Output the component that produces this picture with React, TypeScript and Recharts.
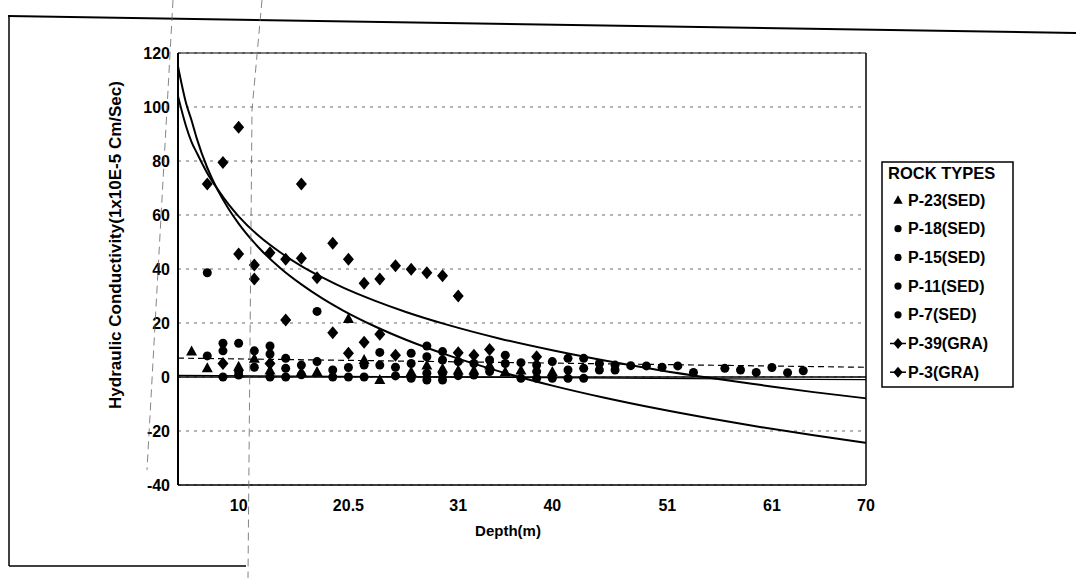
import React from 'react';
import { ComposedChart, Scatter, Line, XAxis, YAxis, CartesianGrid, ReferenceLine } from 'recharts';

const FONT = "'Liberation Sans', Arial, Helvetica, sans-serif";
const n = null;

// depth of each measured interval (m)
const depths = [5.5, 7, 8.5, 10, 11.5, 13, 14.5, 16, 17.5, 19, 20.5, 22, 23.5, 25, 26.5, 28, 29.5, 31, 32.5, 34, 35.5, 37, 38.5, 40, 41.5, 43, 44.5, 46, 47.5, 49, 50.5, 52, 53.5, 55, 56.5, 58, 59.5, 61, 62.5, 64];

// hydraulic conductivity per bore (1x10E-5 cm/sec), by depth index
const p23 = [9.6, 3.4, n, 4, 6.9, 2.6, n, 2, 2, n, 21.7, 6.5, -0.9, n, 2, 4.4, 3.2, 2.6, 2.6, 4.4, 2, 2.6, n, 2];
const p18 = [n, 38.6, 12.5, 12.5, 9.7, 11.5, 6.9, 4.4, 24.3, 2.6, 3.5, 4.4, 9.1, 3.6, 8.8, 11.5, 9.4, 5.7, 5, 6.3, 8.1, 5.3, 4.4, 5.7, 6.9, 6.9, 5, 4.4];
const p15 = [n, 7.8, 9.7, 2, 3.6, 8.5, 3.2, 0.8, 5.7, 0, 0, 0, 4.4, 0.4, 5, 7.5, 6.3, 0.5, 0.7, 2, 5, -0.5, 2, -0.5, 2.6, 3.2, 2.6, 2.6];
const p11 = [n, n, 0, 0.7, n, 0, 0, n, n, n, n, n, n, n, -0.5, 1.4, 1.4, n, n, n, n, n, -0.5, n, -0.5, -0.5];
const p7 = [n, n, n, n, n, n, n, n, n, n, n, n, n, n, n, -1.1, -1.1, n, n, n, n, n, n, n, n, n, n, n, 4.2, 4.1, 3.6, 4.1, 1.7, n, 3.2, 2.6, 1.7, 3.5, 1.6, 2.3];
const p39 = [n, n, 5, 45.6, 36.3, 5, 21.1, 44, n, 16.4, 8.8, 12.9, 15.8, 8.1, n, n, n, 9, 8.1, 10.2, n, n, 7.5];
const p3 = [n, 71.5, 79.4, 92.5, 41.5, 46, 43.6, 71.5, 36.8, 49.5, 43.6, 34.7, 36.3, 41.2, 39.9, 38.6, 37.5, 30];

// trend curves
const trendDepths = [4.2, 5, 5.5, 6, 7, 8, 9, 10, 12, 14, 16, 18, 20, 23, 26, 30, 35, 40, 45, 50, 55, 60, 65, 70];
const trendA = [115, 101, 95, 88.3, 77.5, 69.2, 62.5, 56.8, 47.6, 40.3, 34.3, 29.1, 24.6, 18.8, 13.8, 8.1, 2.0, -3.2, -7.7, -11.7, -15.3, -18.6, -21.6, -24.4];
const trendB = [104, 92.5, 87, 83, 75.5, 69.5, 64.1, 59.5, 52.0, 46.1, 41.1, 36.9, 33.1, 28.3, 24.1, 19.3, 14.2, 9.9, 6.1, 2.7, -0.3, -3.0, -5.6, -7.9];
const flatDepths = [4.2, 70];
const flatDashed = [7, 3.6];
const flatSolid = [0.6, -1.0];

const depthTicks = [10, 20.5, 31, 40, 51, 61, 70];
const valueTicks = [-40, -20, 0, 20, 40, 60, 80, 100, 120];

type Kind = 'triangle' | 'circle' | 'diamond';

const series: { name: string; values: (number | null)[]; kind: Kind }[] = [
  { name: 'P-23(SED)', values: p23, kind: 'triangle' },
  { name: 'P-18(SED)', values: p18, kind: 'circle' },
  { name: 'P-15(SED)', values: p15, kind: 'circle' },
  { name: 'P-11(SED)', values: p11, kind: 'circle' },
  { name: 'P-7(SED)', values: p7, kind: 'circle' },
  { name: 'P-39(GRA)', values: p39, kind: 'diamond' },
  { name: 'P-3(GRA)', values: p3, kind: 'diamond' },
];

function toPoints(values: (number | null)[]) {
  return depths
    .map((d, i) => ({ depth: d, value: values[i] }))
    .filter((p) => p.value !== null && p.value !== undefined);
}

function toRows(xs: number[], ys: number[]) {
  return xs.map((d, i) => ({ depth: d, value: ys[i] }));
}

function Marker({ cx, cy, kind, scale = 1 }: { cx?: number; cy?: number; kind: Kind; scale?: number }) {
  if (cx == null || cy == null) return null;
  const s = scale;
  if (kind === 'triangle')
    return <path d={`M${cx},${cy - 5.5 * s}L${cx + 5.5 * s},${cy + 4.5 * s}L${cx - 5.5 * s},${cy + 4.5 * s}Z`} fill="#000" />;
  if (kind === 'diamond')
    return <path d={`M${cx},${cy - 6.5 * s}L${cx + 5.5 * s},${cy}L${cx},${cy + 6.5 * s}L${cx - 5.5 * s},${cy}Z`} fill="#000" />;
  return <circle cx={cx} cy={cy} r={4.5 * s} fill="#000" />;
}

const tickStyle = { fill: '#000', fontSize: 16, fontWeight: 700, fontFamily: FONT };

function LegendBox() {
  return (
    <svg width={134} height={228} style={{ position: 'absolute', left: 881, top: 161 }}>
      <rect x={1} y={1} width={131} height={225} fill="#fff" stroke="#000" strokeWidth={1.5} />
      <text x={7} y={18} fontSize={16.5} fontWeight={700} fontFamily={FONT}>ROCK TYPES</text>
      {series.map((s, i) => {
        const cy = 39 + i * 28.7;
        return (
          <g key={s.name}>
            {s.kind === 'diamond' && <line x1={9} x2={25} y1={cy} y2={cy} stroke="#000" strokeWidth={1.5} />}
            <Marker cx={17} cy={cy} kind={s.kind} scale={s.kind === 'circle' ? 0.8 : 0.85} />
            <text x={27} y={cy + 5.5} fontSize={16} fontWeight={700} fontFamily={FONT}>{s.name}</text>
          </g>
        );
      })}
    </svg>
  );
}

function Decor() {
  return (
    <svg width={1076} height={578} style={{ position: 'absolute', left: 0, top: 0, pointerEvents: 'none' }}>
      <line x1={8} y1={16} x2={1076} y2={33} stroke="#000" strokeWidth={2} />
      <line x1={9} y1={16} x2={9} y2={566} stroke="#000" strokeWidth={1.5} />
      <line x1={9} y1={566} x2={246} y2={566} stroke="#000" strokeWidth={1.5} />
      <line x1={173} y1={0} x2={147} y2={470} stroke="#666" strokeWidth={0.8} strokeDasharray="8 5" />
      <polyline points="262,0 252,110 248,578" fill="none" stroke="#666" strokeWidth={0.8} strokeDasharray="8 5" />
      <text x={117} y={245} transform="rotate(-90 117 245)" textAnchor="middle" dominantBaseline="middle"
        fontSize={17} fontWeight={700} fontFamily={FONT}>Hydraulic Conductivity(1x10E-5 Cm/Sec)</text>
      <text x={508} y={536} textAnchor="middle" fontSize={15} fontWeight={700} fontFamily={FONT}>Depth(m)</text>
    </svg>
  );
}

export default function App() {
  return (
    <div style={{ position: 'absolute', left: 0, top: 0, width: 1076, height: 578, background: '#fff' }}>
      <ComposedChart width={1076} height={578} margin={{ top: 53, right: 210, bottom: 63, left: 118 }}>
        <CartesianGrid horizontal vertical={false} stroke="#444" strokeDasharray="3 5" strokeWidth={0.8} />
        <XAxis
          type="number"
          dataKey="depth"
          domain={[4.2, 70]}
          ticks={depthTicks}
          interval={0}
          allowDataOverflow
          height={30}
          tickLine={false}
          tickMargin={9}
          axisLine={{ stroke: '#000', strokeWidth: 1.5 }}
          tick={tickStyle}
        />
        <YAxis
          type="number"
          dataKey="value"
          domain={[-40, 120]}
          ticks={valueTicks}
          interval={0}
          allowDataOverflow
          width={60}
          tickLine={false}
          axisLine={{ stroke: '#000', strokeWidth: 2 }}
          tick={tickStyle}
        />
        <ReferenceLine y={120} stroke="#000" strokeWidth={1.2} />
        <ReferenceLine x={70} stroke="#000" strokeWidth={1.5} />
        <ReferenceLine y={0} stroke="#000" strokeWidth={1.5} />
        <Line data={toRows(flatDepths, flatDashed)} dataKey="value" type="linear" stroke="#000" strokeWidth={1.2}
          strokeDasharray="6 4" dot={false} activeDot={false} isAnimationActive={false} />
        <Line data={toRows(flatDepths, flatSolid)} dataKey="value" type="linear" stroke="#000" strokeWidth={1.2}
          dot={false} activeDot={false} isAnimationActive={false} />
        <Line data={toRows(trendDepths, trendA)} dataKey="value" type="monotone" stroke="#000" strokeWidth={2}
          dot={false} activeDot={false} isAnimationActive={false} />
        <Line data={toRows(trendDepths, trendB)} dataKey="value" type="monotone" stroke="#000" strokeWidth={2}
          dot={false} activeDot={false} isAnimationActive={false} />
        {series.map((s) => (
          <Scatter
            key={s.name}
            name={s.name}
            data={toPoints(s.values)}
            dataKey="value"
            isAnimationActive={false}
            shape={(p: any) => <Marker cx={p.cx} cy={p.cy} kind={s.kind} />}
          />
        ))}
      </ComposedChart>
      <Decor />
      <LegendBox />
    </div>
  );
}
